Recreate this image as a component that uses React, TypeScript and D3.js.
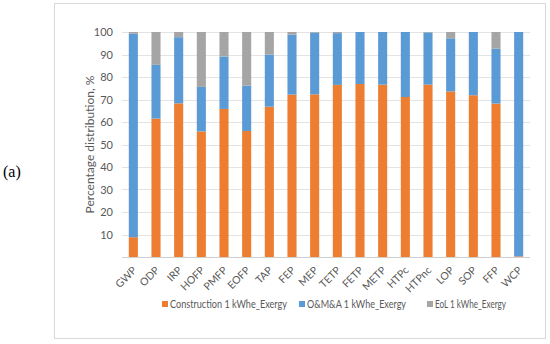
import React, { useEffect, useRef } from 'react';
import * as d3 from 'd3';

// categorias (impact categories)
const categories = ['GWP', 'ODP', 'IRP', 'HOFP', 'PMFP', 'EOFP', 'TAP', 'FEP', 'MEP', 'TETP', 'FETP', 'METP', 'HTPc', 'HTPnc', 'LOP', 'SOP', 'FFP', 'WCP'];
const construction = [8.8, 61.5, 68.3, 55.8, 65.8, 56.0, 66.8, 72.2, 72.3, 76.5, 76.9, 76.6, 71.1, 76.6, 73.6, 71.9, 68.2, 0.3];
const omA = [90.4, 23.9, 29.4, 19.8, 23.3, 20.2, 23.2, 26.6, 27.4, 23.0, 23.1, 23.4, 28.9, 23.2, 23.6, 28.1, 24.4, 99.7];
const eol = [0.8, 14.6, 2.3, 24.4, 10.9, 23.8, 10.0, 1.2, 0.3, 0.5, 0.0, 0.0, 0.0, 0.2, 2.8, 0.0, 7.4, 0.0];
const seriesNames = ['Construction 1 kWhe_Exergy', 'O&M&A 1 kWhe_Exergy', 'EoL 1 kWhe_Exergy'];
const seriesColors = ['#ED7D31', '#5B9BD5', '#A5A5A5'];
const yTicks = [10, 20, 30, 40, 50, 60, 70, 80, 90, 100];

const App: React.FC = () => {
  const svgRef = useRef<SVGSVGElement>(null);

  useEffect(() => {
    const width = 550;
    const height = 344;
    const margin = { left: 122, right: 20, top: 32, bottom: 87 };
    const font = 'Lato, "Open Sans", sans-serif';

    const svg = d3.select(svgRef.current)
      .attr('width', width)
      .attr('height', height);
    svg.selectAll('*').remove();

    // moldura do gráfico
    svg.append('rect')
      .attr('x', 54.5).attr('y', 3.5)
      .attr('width', 491).attr('height', 335)
      .attr('fill', '#fff')
      .attr('stroke', '#D9D9D9');

    svg.append('text')
      .attr('x', 3).attr('y', 177)
      .attr('font-family', '"Liberation Serif", serif')
      .attr('font-size', 16)
      .attr('fill', '#000')
      .text('(a)');

    const x = d3.scaleBand<string>()
      .domain(categories)
      .range([margin.left, width - margin.right])
      .paddingInner(0.6)
      .paddingOuter(0.3);

    const y = d3.scaleLinear()
      .domain([0, 100])
      .range([height - margin.bottom, margin.top]);

    // grelha
    svg.append('g')
      .selectAll('line')
      .data(yTicks)
      .enter().append('line')
      .attr('x1', margin.left).attr('x2', width - margin.right)
      .attr('y1', (d) => Math.round(y(d)) + 0.5)
      .attr('y2', (d) => Math.round(y(d)) + 0.5)
      .attr('stroke', '#E3E3E3');

    svg.append('line')
      .attr('x1', margin.left).attr('x2', width - margin.right)
      .attr('y1', Math.round(y(0)) + 0.5).attr('y2', Math.round(y(0)) + 0.5)
      .attr('stroke', '#D0D0D0');

    svg.append('g')
      .selectAll('text')
      .data(yTicks)
      .enter().append('text')
      .attr('x', 113)
      .attr('y', (d) => y(d) + 4)
      .attr('text-anchor', 'end')
      .attr('font-family', font)
      .attr('font-size', 11)
      .attr('fill', '#595959')
      .text((d) => d);

    svg.append('text')
      .attr('transform', `translate(94,${(y(0) + y(100)) / 2}) rotate(-90)`)
      .attr('text-anchor', 'middle')
      .attr('font-family', font)
      .attr('font-size', 12)
      .attr('fill', '#595959')
      .text('Percentage distribution, %');

    // barras empilhadas
    const rows = categories.map((c, i) => ({ cat: c, s0: construction[i], s1: omA[i], s2: eol[i] }));
    const stacked = d3.stack<any>().keys(['s0', 's1', 's2'])(rows);

    svg.append('g')
      .selectAll('g')
      .data(stacked)
      .enter().append('g')
      .attr('fill', (_d, i) => seriesColors[i])
      .selectAll('rect')
      .data((d) => d)
      .enter().append('rect')
      .attr('x', (d: any) => x(d.data.cat) as number)
      .attr('width', x.bandwidth())
      .attr('y', (d) => y(d[1]))
      .attr('height', (d) => Math.max(0, y(d[0]) - y(d[1])));

    // rótulos do eixo x
    svg.append('g')
      .selectAll('text')
      .data(categories)
      .enter().append('text')
      .attr('transform', (d) => `translate(${(x(d) as number) + x.bandwidth() / 2 + 4},${y(0) + 14}) rotate(-45)`)
      .attr('text-anchor', 'end')
      .attr('font-family', font)
      .attr('font-size', 10.5)
      .attr('fill', '#595959')
      .text((d) => d);

    // legenda
    const legendX = [162, 299, 427];
    const legendLen = [117, 99, 71];
    const legend = svg.append('g')
      .selectAll('g')
      .data(seriesNames)
      .enter().append('g')
      .attr('transform', (_d, i) => `translate(${legendX[i]},305)`);
    legend.append('rect')
      .attr('x', 0).attr('y', -4)
      .attr('width', 6).attr('height', 6)
      .attr('fill', (_d, i) => seriesColors[i]);
    legend.append('text')
      .attr('x', 8).attr('y', 3)
      .attr('font-family', font)
      .attr('font-size', 10.5)
      .attr('fill', '#595959')
      .attr('textLength', (_d, i) => legendLen[i])
      .attr('lengthAdjust', 'spacingAndGlyphs')
      .text((d) => d);
  }, []);

  return (
    <svg ref={svgRef} style={{ position: 'absolute', left: 0, top: 0 }}></svg>
  );
};

export default App;
